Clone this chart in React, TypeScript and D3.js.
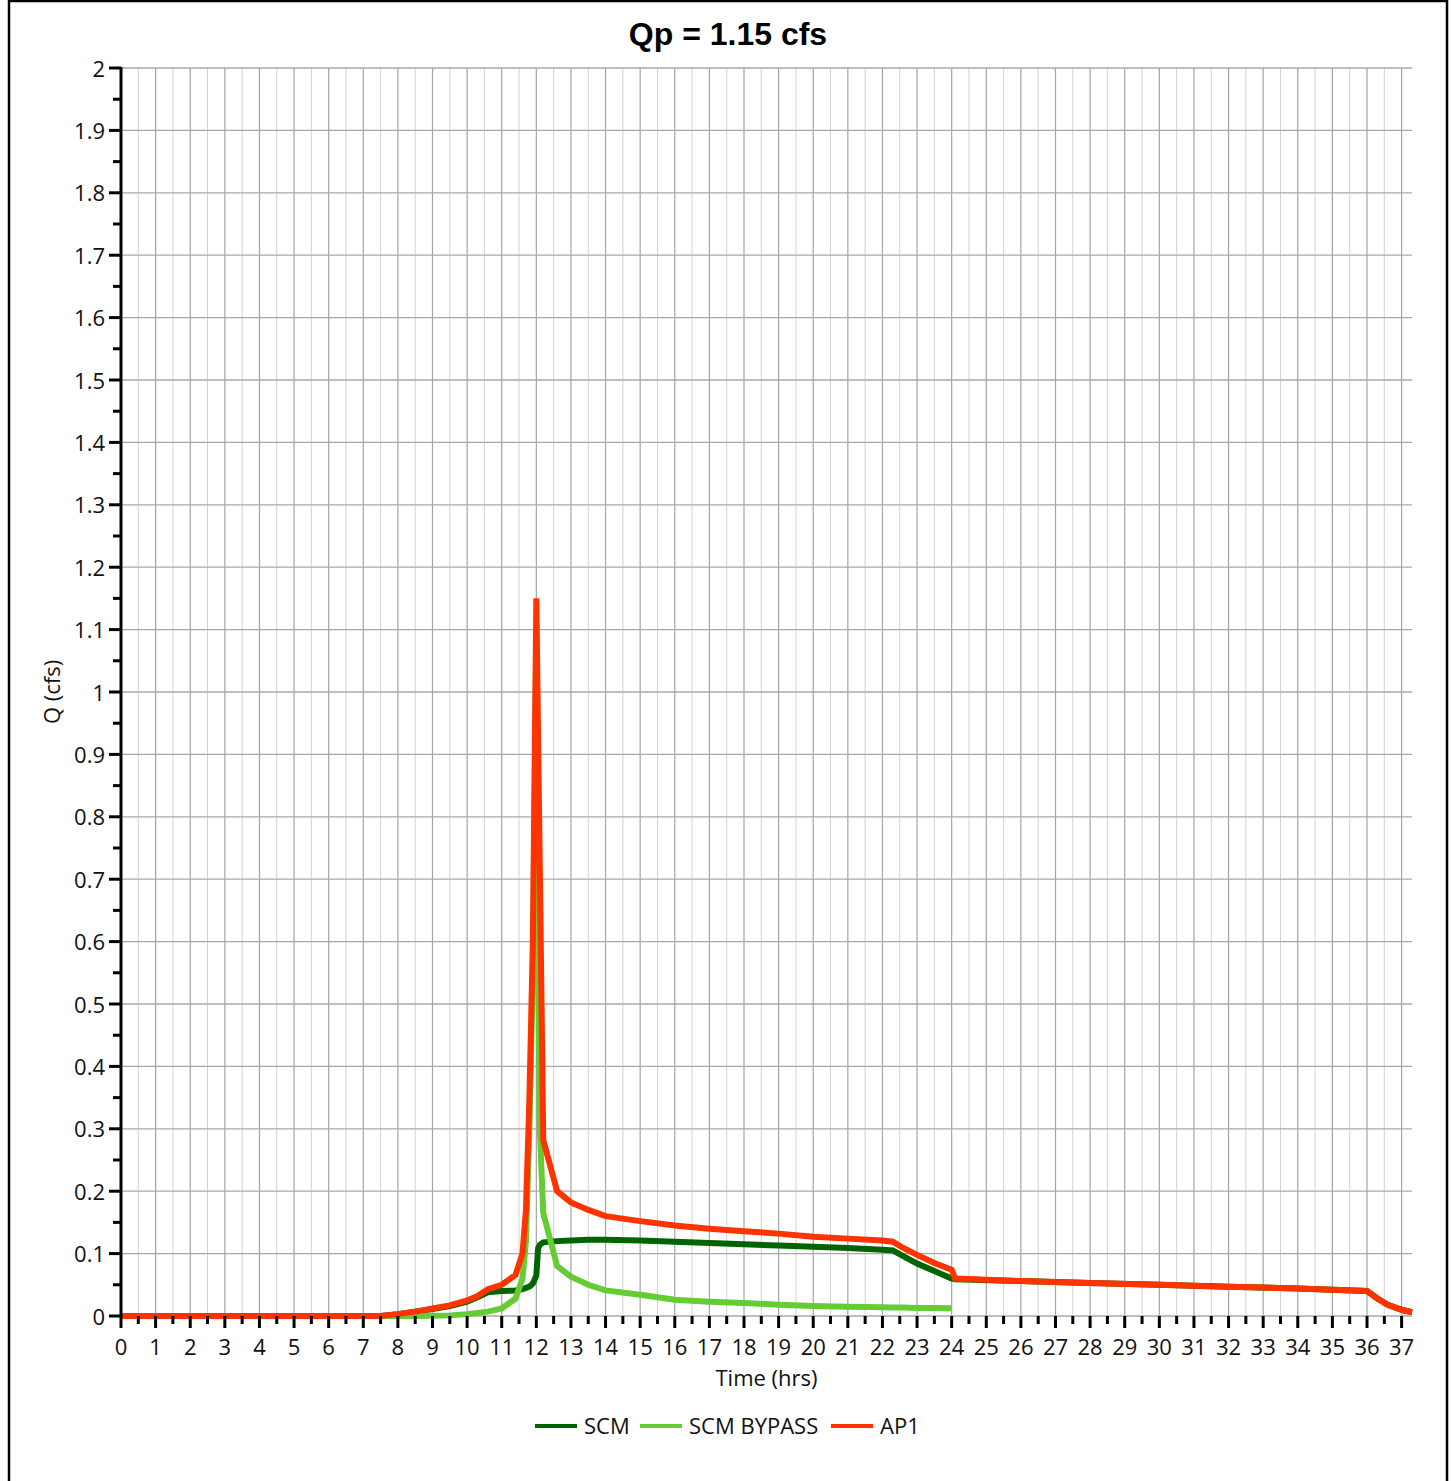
import React from "react";
import * as d3 from "d3";

// time axis (hrs), shared by all three hydrographs
const hours = [
  0, 7.5, 8, 8.5, 9, 9.5, 10, 10.3, 10.6, 11, 11.4, 11.6, 11.7, 11.8, 11.9, 12,
  12.05, 12.1, 12.2, 12.6, 13, 13.5, 14, 15, 16, 17, 18, 19, 20, 21, 22, 22.3,
  22.6, 23, 23.5, 24, 24.1, 26, 28, 30, 32, 34, 36, 36.3, 36.6, 37, 37.3,
];

// flows (cfs); null = series not defined there
const scm = [
  0, 0, 0.003, 0.007, 0.011, 0.016, 0.023, 0.03, 0.038, 0.04, 0.041, 0.043,
  0.045, 0.047, 0.052, 0.065, 0.108, 0.114, 0.118, 0.12, 0.121, 0.122, 0.122,
  0.121, 0.119, 0.117, 0.115, 0.113, 0.111, 0.109, 0.106, 0.105, 0.096, 0.084,
  0.072, 0.06, 0.059, 0.056, 0.053, 0.05, 0.047, 0.044, 0.04, 0.028, 0.018,
  0.01, 0.006,
];

const scmBypass = [
  0, 0, 0, 0, 0.0005, 0.001, 0.003, 0.005, 0.007, 0.012, 0.028, 0.06, 0.12,
  0.3, 0.55, 1.09, 0.6, 0.3, 0.165, 0.08, 0.063, 0.05, 0.041, 0.034, 0.026,
  0.023, 0.021, 0.018, 0.016, 0.015, 0.014, 0.0138, 0.0135, 0.013, 0.0127,
  0.0123, null, null, null, null, null, null, null, null, null, null, null,
];

const ap1 = [
  0, 0, 0.003, 0.007, 0.012, 0.017, 0.025, 0.032, 0.043, 0.05, 0.066, 0.1,
  0.17, 0.35, 0.6, 1.15, 0.93, 0.72, 0.282, 0.2, 0.182, 0.17, 0.16, 0.152,
  0.145, 0.14, 0.136, 0.132, 0.127, 0.124, 0.121, 0.119, 0.109, 0.098, 0.085,
  0.074, 0.06, 0.056, 0.053, 0.05, 0.047, 0.044, 0.04, 0.028, 0.018, 0.01,
  0.006,
];

const seriesNames = ["SCM", "SCM BYPASS", "AP1"];
const seriesColors = ["#006400", "#66cc33", "#ff3300"];
const seriesValues = [scm, scmBypass, ap1];

const title = "Qp = 1.15 cfs";
const xTitle = "Time (hrs)";
const yTitle = "Q (cfs)";

const W = 1452;
const H = 1481;
const left = 121;
const right = 1412;
const top = 68;
const bottom = 1316;
const font = "'Open Sans', 'Noto Sans', sans-serif";
const fs = 22;

export default function App() {
  const x = d3.scaleLinear().domain([0, 37.3]).range([left, right]);
  const y = d3.scaleLinear().domain([0, 2]).range([bottom, top]);

  const hourTicks = d3.range(0, 38);
  const halfTicks = d3.range(0.5, 37.3, 1);
  const yMajor = d3.range(0, 21).map((i) => i / 10);
  const yMinor = d3.range(0, 20).map((i) => i / 10 + 0.05);
  const fmt = d3.format("~g");

  const line = d3
    .line<number>()
    .defined((_, i, arr) => arr[i] != null)
    .x((_, i) => x(hours[i]))
    .y((v) => y(v as number));

  // legend layout
  const legendX = [535, 640, 831];

  return (
    <svg
      width={W}
      height={H}
      style={{ position: "absolute", left: 0, top: 0, background: "#fff" }}
      fontFamily={font}
    >
      <rect x={0} y={0} width={W} height={H} fill="#fff" />
      <rect
        x={9}
        y={1}
        width={1438}
        height={1500}
        fill="none"
        stroke="#000"
        strokeWidth={2.5}
      />

      <text
        x={728}
        y={45}
        textAnchor="middle"
        fontFamily="'Liberation Sans', Arial, sans-serif"
        fontWeight="bold"
        fontSize={32}
      >
        {title}
      </text>

      {/* vertical grid */}
      {halfTicks.map((t) => (
        <line
          key={"h" + t}
          x1={x(t)}
          x2={x(t)}
          y1={top}
          y2={bottom}
          stroke="#d2d2d2"
          strokeWidth={1}
        />
      ))}
      {hourTicks.map((t) => (
        <line
          key={"g" + t}
          x1={x(t)}
          x2={x(t)}
          y1={top}
          y2={bottom}
          stroke="#a4a4a4"
          strokeWidth={1.2}
        />
      ))}
      {/* horizontal grid */}
      {yMajor.map((v) => (
        <line
          key={"y" + v}
          x1={left}
          x2={right}
          y1={y(v)}
          y2={y(v)}
          stroke="#a8a8a8"
          strokeWidth={1.3}
        />
      ))}

      {/* series */}
      {seriesValues.map((vals, i) => (
        <path
          key={seriesNames[i]}
          d={line(vals as number[]) || ""}
          fill="none"
          stroke={seriesColors[i]}
          strokeWidth={6}
          strokeLinejoin="miter"
        />
      ))}

      {/* y axis */}
      <line x1={left} x2={left} y1={top - 1} y2={bottom + 1} stroke="#000" strokeWidth={3} />
      {yMajor.map((v) => (
        <g key={"yt" + v}>
          <line x1={left - 12} x2={left} y1={y(v)} y2={y(v)} stroke="#000" strokeWidth={3} />
          <text x={105} y={y(v) + 8.5} textAnchor="end" fontSize={fs} fill="#111">
            {fmt(v)}
          </text>
        </g>
      ))}
      {yMinor.map((v) => (
        <line
          key={"ym" + v}
          x1={left - 8}
          x2={left}
          y1={y(v)}
          y2={y(v)}
          stroke="#000"
          strokeWidth={3}
        />
      ))}

      {/* x axis ticks */}
      {hourTicks.map((t) => (
        <g key={"xt" + t}>
          <line x1={x(t)} x2={x(t)} y1={bottom} y2={bottom + 12} stroke="#000" strokeWidth={3} />
          <text x={x(t)} y={1355} textAnchor="middle" fontSize={fs} fill="#111">
            {t}
          </text>
        </g>
      ))}
      {halfTicks.map((t) => (
        <line
          key={"xm" + t}
          x1={x(t)}
          x2={x(t)}
          y1={bottom}
          y2={bottom + 8}
          stroke="#000"
          strokeWidth={3}
        />
      ))}

      <text x={(left + right) / 2} y={1386} textAnchor="middle" fontSize={fs} fill="#111">
        {xTitle}
      </text>
      <text
        transform={`translate(60, ${(top + bottom) / 2}) rotate(-90)`}
        textAnchor="middle"
        fontSize={fs}
        fill="#111"
      >
        {yTitle}
      </text>

      {/* legend */}
      {seriesNames.map((name, i) => (
        <g key={"lg" + name}>
          <line
            x1={legendX[i]}
            x2={legendX[i] + 42}
            y1={1426}
            y2={1426}
            stroke={seriesColors[i]}
            strokeWidth={4}
          />
          <text x={legendX[i] + 49} y={1434} fontSize={fs} fill="#111">
            {name}
          </text>
        </g>
      ))}
    </svg>
  );
}
